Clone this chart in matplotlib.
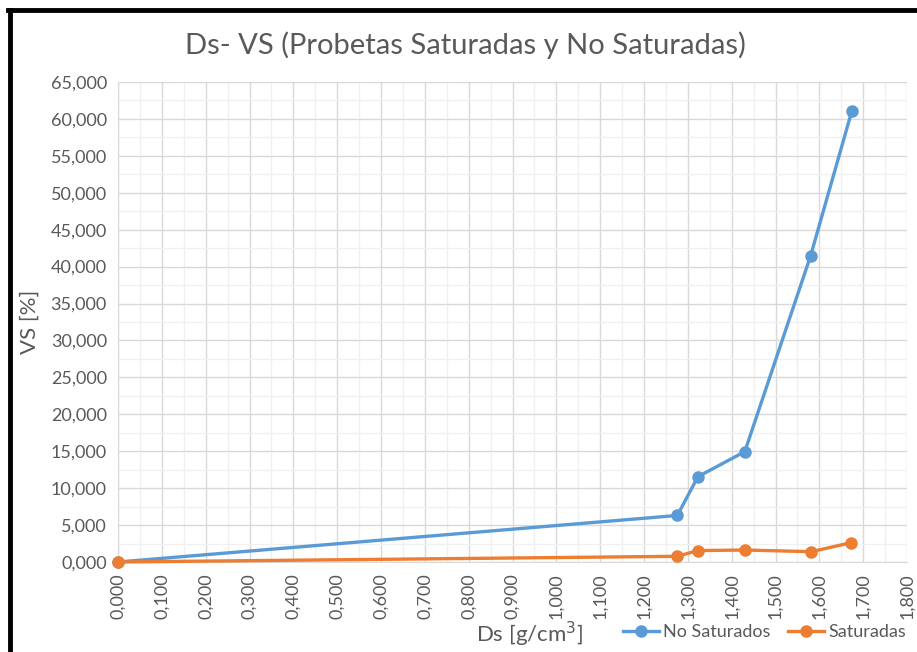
import matplotlib.pyplot as plt
from matplotlib.ticker import MultipleLocator, FuncFormatter
from matplotlib.lines import Line2D

ds_no_sat = [0.0, 1.276, 1.323, 1.430, 1.580, 1.674]
vs_no_sat = [0.0, 6.3, 11.55, 14.95, 41.45, 61.05]
ds_sat = [0.0, 1.276, 1.323, 1.430, 1.582, 1.672]
vs_sat = [0.0, 0.77, 1.55, 1.62, 1.40, 2.61]

blue = "#5B9BD5"
orange = "#ED7D31"
txt = "#595959"
plt.rcParams["font.family"] = ["Lato", "DejaVu Sans"]

fig = plt.figure(figsize=(9.17, 6.52), dpi=100)
ax = fig.add_axes([118 / 917, 1 - 562 / 652, (907 - 118) / 917, (562 - 82) / 652])

ax.plot(ds_no_sat, vs_no_sat, color=blue, lw=2.4, marker="o", ms=8, label="No Saturados",
        zorder=3, clip_on=False)
ax.plot(ds_sat, vs_sat, color=orange, lw=2.4, marker="o", ms=8, label="Saturadas",
        zorder=4, clip_on=False)

ax.set_xlim(0, 1.8)
ax.set_ylim(0, 65)
ax.xaxis.set_major_locator(MultipleLocator(0.1))
ax.xaxis.set_minor_locator(MultipleLocator(0.05))
ax.yaxis.set_major_locator(MultipleLocator(5))
ax.yaxis.set_minor_locator(MultipleLocator(2.5))
fmt = FuncFormatter(lambda v, p: f"{v:.3f}".replace(".", ","))
ax.xaxis.set_major_formatter(fmt)
ax.yaxis.set_major_formatter(fmt)
ax.grid(which="major", color="#D9D9D9", lw=1)
ax.grid(which="minor", color="#F0F0F0", lw=1)
ax.set_axisbelow(True)
ax.tick_params(which="both", length=0, colors=txt, labelsize=13)
ax.tick_params(axis="x", rotation=90, pad=8)
ax.tick_params(axis="y", pad=8)
for s in ["top", "right"]:
    ax.spines[s].set_visible(False)
for s in ["left", "bottom"]:
    ax.spines[s].set_color("#D9D9D9")

ax.set_ylabel("VS [%]", color=txt, fontsize=16, labelpad=8)
fig.text(530 / 917, 1 - 634 / 652, "Ds [g/cm$^3$]", color=txt, fontsize=16, ha="center", va="center")
fig.text(465 / 917, 1 - 45 / 652, "Ds- VS (Probetas Saturadas y No Saturadas)", color=txt,
         fontsize=21, ha="center", va="center")

fig.legend(handles=[Line2D([], [], color=blue, lw=2.4, marker="o", ms=8),
                    Line2D([], [], color=orange, lw=2.4, marker="o", ms=8)],
           labels=["No Saturados", "Saturadas"], loc="center right",
           bbox_to_anchor=(913 / 917, 1 - 632 / 652), ncol=2, frameon=False,
           fontsize=13, labelcolor=txt, handlelength=2.0, handletextpad=0.2,
           columnspacing=1.0, borderaxespad=0)

# black frame (left and top visible)
fig.add_artist(Line2D([9.5 / 917, 9.5 / 917], [0, 1 - 9.5 / 652], color="black", lw=3.5,
                      transform=fig.transFigure))
fig.add_artist(Line2D([8 / 917, 1], [1 - 9.5 / 652, 1 - 9.5 / 652], color="black", lw=3.5,
                      transform=fig.transFigure))

fig.savefig("out.png", dpi=100)
